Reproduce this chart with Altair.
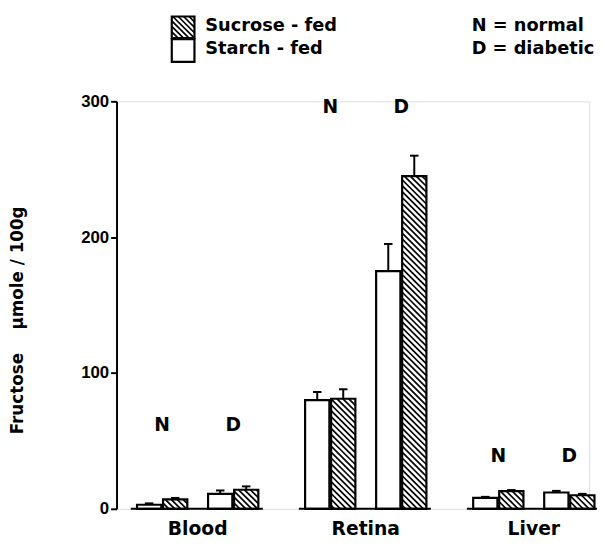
import altair as alt
import pandas as pd
import math

# ---------------- data ----------------
tissues = ["Blood", "Retina", "Liver"]
conditions = ["N", "D"]
# order: Blood N, Blood D, Retina N, Retina D, Liver N, Liver D
starch_vals = [3, 11, 80, 175, 8, 12]
sucrose_vals = [7, 14, 81, 245, 13, 10]
starch_err = [1, 2.5, 6, 20, 0.8, 1.2]
sucrose_err = [1, 2.5, 7, 15, 0.8, 1]
cond_label_y = [62, 296, 39]          # height (data units) of the N / D letters per tissue
y_ticks = [0, 100, 200, 300]
legend_labels = ["Sucrose - fed", "Starch - fed"]
legend_notes = ["N = normal", "D = diabetic"]
y_title = "Fructose\u00a0\u00a0\u00a0\u00a0µmole / 100g"

# ---------------- layout ----------------
W, H = 479, 413
PXU = 25.35                   # pixels per bar-width unit
XMAX = W / PXU
YMAX = 300
FIRST, GROUP_STEP, COND_STEP, DIET_STEP, BAR_W = 0.82, 6.72, 2.84, 1.04, 0.97
PXY = H / YMAX
FONT = "DejaVu Sans"
TICKFONT = "Liberation Sans"
HATCH = 6.0

rows = []
idx = 0
for ti, t in enumerate(tissues):
    for ci, c in enumerate(conditions):
        for di, (vals, errs, diet) in enumerate(
            [(starch_vals, starch_err, "Starch"), (sucrose_vals, sucrose_err, "Sucrose")]
        ):
            x0 = FIRST + ti * GROUP_STEP + ci * COND_STEP + di * DIET_STEP
            v = vals[idx]
            e = errs[idx]
            rows.append(dict(tissue=t, cond=c, diet=diet, x0=x0, x1=x0 + BAR_W,
                             cx=x0 + BAR_W / 2, cl=x0 + BAR_W / 2 - 0.17,
                             cr=x0 + BAR_W / 2 + 0.17, val=v, top=v + e, zero=0))
        idx += 1
bars = pd.DataFrame(rows)


def hatch_segments(x0, x1, yt, yb, step=HATCH):
    """Clipped '\\' hatch lines inside pixel rect (screen y downward)."""
    segs = []
    c = math.floor((yt - x1) / step) * step
    while c <= yb - x0:
        xa = max(x0, yt - c)
        xb = min(x1, yb - c)
        if xb - xa > 0.3:
            segs.append((xa, xa + c, xb, xb + c))
        c += step
    return segs


hrows = []
for r in rows:
    if r["diet"] != "Sucrose":
        continue
    px0, px1 = r["x0"] * PXU, r["x1"] * PXU
    pyt, pyb = H - r["val"] * PXY, H
    for (xa, ya, xb, yb) in hatch_segments(px0, px1, pyt, pyb):
        hrows.append(dict(hx0=xa / PXU, hx1=xb / PXU,
                          hy0=(H - ya) / PXY, hy1=(H - yb) / PXY))
hatch = pd.DataFrame(hrows)

# group baselines and labels
grows = []
crows = []
for ti, t in enumerate(tissues):
    gx0 = FIRST + ti * GROUP_STEP
    gx1 = gx0 + COND_STEP + DIET_STEP + BAR_W
    grows.append(dict(tissue=t, g0=gx0 - 0.25, g1=gx1 + 0.18, gc=(gx0 + gx1) / 2, zero=0))
    for ci, c in enumerate(conditions):
        cx0 = gx0 + ci * COND_STEP
        crows.append(dict(cond=c, cx=cx0 + (DIET_STEP + BAR_W) / 2, cy=cond_label_y[ti]))
groups = pd.DataFrame(grows)
clabels = pd.DataFrame(crows)

xs = alt.Scale(domain=[0, XMAX], nice=False, zero=False)
ys = alt.Scale(domain=[0, YMAX], nice=False)
X = lambda f: alt.X(f, scale=xs, axis=None)

base_bars = alt.Chart(bars)
fill_layer = base_bars.mark_rect(fill="white", stroke=None).encode(
    x=X("x0:Q"), x2="x1", y=alt.Y("val:Q", scale=ys,
    axis=alt.Axis(values=y_ticks, title=y_title, grid=False, domainColor="black",
                  domainWidth=2, tickColor="black", tickWidth=2, tickSize=6,
                  labelFont=TICKFONT, labelFontWeight="bold", labelFontSize=17,
                  labelColor="black", labelPadding=2,
                  titleFont=FONT, titleFontWeight="bold", titleFontSize=17,
                  titleColor="black", titleAngle=-90, titleX=-100, titleY=H / 2 + 15,
                  titleAlign="center", titleBaseline="middle")),
    y2="zero")
hatch_layer = alt.Chart(hatch).mark_rule(color="black", strokeWidth=1.7).encode(
    x=X("hx0:Q"), x2="hx1", y=alt.Y("hy0:Q", scale=ys), y2="hy1")
outline_layer = base_bars.mark_rect(fill=None, stroke="black", strokeWidth=2.2).encode(
    x=X("x0:Q"), x2="x1", y=alt.Y("val:Q", scale=ys), y2="zero")
err_layer = base_bars.mark_rule(color="black", strokeWidth=2).encode(
    x=X("cx:Q"), y=alt.Y("val:Q", scale=ys), y2="top")
cap_layer = base_bars.mark_rule(color="black", strokeWidth=2).encode(
    x=X("cl:Q"), x2="cr", y=alt.Y("top:Q", scale=ys))
base_layer = alt.Chart(groups).mark_rule(color="black", strokeWidth=2).encode(
    x=X("g0:Q"), x2="g1", y=alt.Y("zero:Q", scale=ys))
glabel_layer = alt.Chart(groups).mark_text(
    font=FONT, fontWeight="bold", fontSize=19, color="black", baseline="middle").encode(
    x=X("gc:Q"), y=alt.value(H + 21), text="tissue:N")
clabel_layer = alt.Chart(clabels).mark_text(
    font=FONT, fontWeight="bold", fontSize=19, color="black", baseline="middle").encode(
    x=X("cx:Q"), y=alt.Y("cy:Q", scale=ys), text="cond:N")

# ---------------- legend (pixel space) ----------------
LX0, LX1 = 56, 79
leg_boxes = pd.DataFrame(dict(lab=legend_labels, y0=[-86, -63], y1=[-64, -40],
                              x0=[LX0, LX0], x1=[LX1, LX1], ty=[-76, -53]))
lh = []
for (xa, ya, xb, yb) in hatch_segments(LX0, LX1, -86, -64, step=5.5):
    lh.append(dict(a=xa, b=xb, c=ya, d=yb))
leg_hatch = pd.DataFrame(lh)
P = lambda f: alt.X(f, scale=None, axis=None)
Q = lambda f: alt.Y(f, scale=None, axis=None)
leg_hatch_layer = alt.Chart(leg_hatch).mark_rule(color="black", strokeWidth=1.7).encode(
    x=P("a:Q"), x2="b", y=Q("c:Q"), y2="d")
leg_box_layer = alt.Chart(leg_boxes).mark_rect(fill=None, stroke="black", strokeWidth=2.2).encode(
    x=P("x0:Q"), x2="x1", y=Q("y0:Q"), y2="y1")
leg_text_layer = alt.Chart(leg_boxes).mark_text(
    font=FONT, fontWeight="bold", fontSize=18, color="black", align="left",
    baseline="middle").encode(x=alt.value(90), y=Q("ty:Q"), text="lab:N")
notes = pd.DataFrame(dict(t=legend_notes, ty=[-76, -53]))
note_layer = alt.Chart(notes).mark_text(
    font=FONT, fontWeight="bold", fontSize=18, color="black", align="left",
    baseline="middle").encode(x=alt.value(360), y=Q("ty:Q"), text="t:N")

chart = alt.layer(
    fill_layer, hatch_layer, outline_layer, err_layer, cap_layer, base_layer,
    glabel_layer, clabel_layer, leg_hatch_layer, leg_box_layer, leg_text_layer, note_layer
).properties(
    width=W, height=H,
    autosize=alt.AutoSizeParams(type="none"),
    padding={"left": 110, "top": 91, "right": 8, "bottom": 27},
).configure_view(stroke=None).configure(background="white")

chart.save("out.html", embed_options={"renderer": "svg", "actions": False})
